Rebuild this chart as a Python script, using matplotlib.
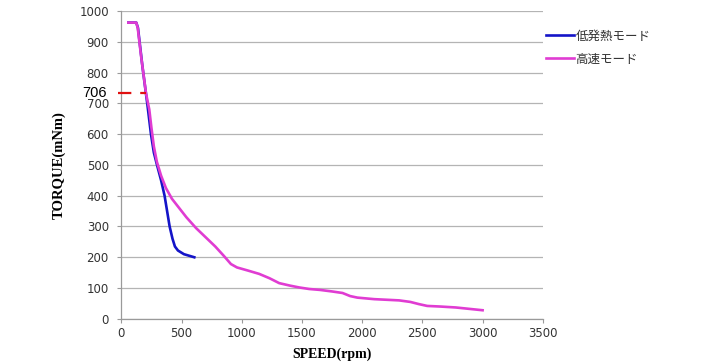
import matplotlib
matplotlib.use("Agg")
import matplotlib.pyplot as plt
from matplotlib.transforms import blended_transform_factory

# --- data ---
low_heat_speed = [58, 124, 138, 175, 215, 246, 270, 296, 330, 359, 380, 401,
                  425, 445, 470, 520, 606]
low_heat_torque = [962, 962, 945, 820, 700, 600, 540, 500, 450, 400, 350, 300,
                   260, 235, 222, 210, 200]

high_speed_speed = [58, 124, 136, 165, 205, 232, 250, 270, 295, 330, 370, 420,
                    480, 540, 620, 700, 780, 850, 910, 960, 1050, 1145, 1230,
                    1311, 1400, 1477, 1560, 1650, 1750, 1837, 1900, 1960, 2100,
                    2307, 2400, 2470, 2540, 2650, 2777, 3000]
high_speed_torque = [962, 962, 945, 850, 732, 680, 620, 560, 510, 465, 425, 390,
                     360, 330, 295, 265, 235, 205, 178, 167, 157, 146, 132,
                     116, 108, 102, 97, 94, 89, 84, 74, 69, 64,
                     60, 55, 48, 42, 40, 37, 28]

series_labels = ["低発熱モード", "高速モード"]
marker_value = 732
marker_label = "706"
marker_end_speed = 207

x_ticks = [0, 500, 1000, 1500, 2000, 2500, 3000, 3500]
y_ticks = list(range(0, 1001, 100))

fig = plt.figure(figsize=(7.18, 3.64), dpi=100)
ax = fig.add_axes([0.169, 0.124, 0.587, 0.846])

ax.plot(low_heat_speed, low_heat_torque, color="#1414c8", lw=1.9,
        label=series_labels[0], solid_joinstyle="round", zorder=3)
ax.plot(high_speed_speed, high_speed_torque, color="#e03cd2", lw=1.9,
        label=series_labels[1], solid_joinstyle="round", zorder=4)

ax.set_xlim(0, 3500)
ax.set_ylim(0, 1000)
ax.set_xticks(x_ticks)
ax.set_yticks(y_ticks)
ax.grid(axis="y", color="#b4b4b4", lw=0.9)
ax.set_axisbelow(True)
for s in ["top", "right"]:
    ax.spines[s].set_visible(False)
for s in ["left", "bottom"]:
    ax.spines[s].set_color("#9a9a9a")
    ax.spines[s].set_linewidth(0.9)
ax.tick_params(axis="both", direction="out", length=3, width=0.8,
               color="#9a9a9a", labelsize=8.5, labelcolor="#333333")
ax.tick_params(axis="y", pad=6)
ax.tick_params(axis="x", pad=3)

ax.set_xlabel("SPEED(rpm)", family="Liberation Serif", fontweight="bold",
              fontsize=10, labelpad=5)
ax.set_ylabel("TORQUE(mNm)", family="Liberation Serif", fontweight="bold",
              fontsize=10.5, labelpad=10)

# red dashed marker line
ax.plot([-30, marker_end_speed], [marker_value, marker_value], color="#e01010",
        lw=1.6, dashes=(6, 4), clip_on=False, zorder=5)
trans = blended_transform_factory(ax.transAxes, ax.transData)
ax.text(-0.034, marker_value, marker_label, transform=trans, ha="right",
        va="center", family="Liberation Sans", fontsize=10.5, color="black")

leg = ax.legend(loc="upper left", bbox_to_anchor=(0.995, 0.955), frameon=False,
                handlelength=2.25, handletextpad=0.15, borderaxespad=0,
                labelspacing=0.8,
                prop={"family": ["Noto Sans CJK JP", "DejaVu Sans"], "size": 9})
for t in leg.get_texts():
    t.set_color("#333333")

fig.savefig("out.png", dpi=100)
